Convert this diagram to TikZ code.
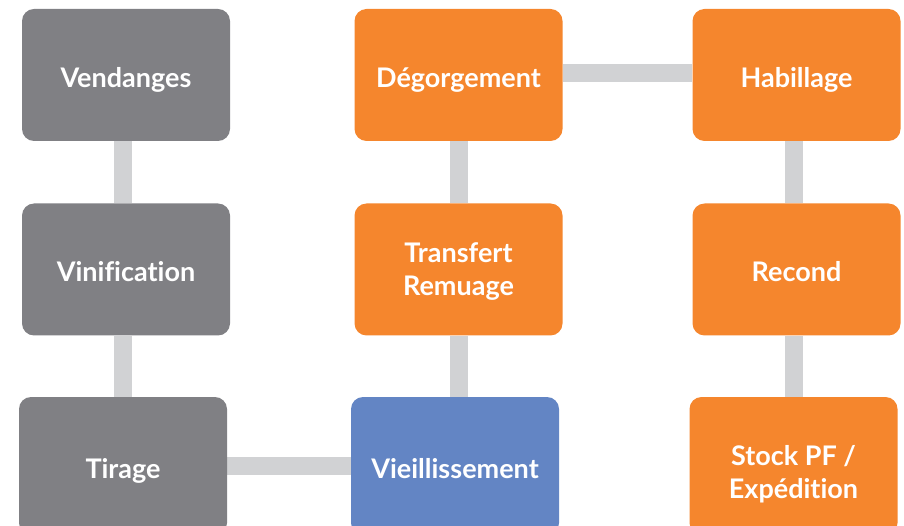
\documentclass[tikz,border=0pt]{standalone}
\usepackage{fontspec}
\setmainfont{Lato}[UprightFont=* Bold, Ligatures=NoCommon]
\usetikzlibrary{backgrounds}
\definecolor{boxgray}{HTML}{808084}
\definecolor{boxorange}{HTML}{F5862D}
\definecolor{boxblue}{HTML}{6385C4}
\definecolor{linkgray}{HTML}{D1D2D4}
\newcommand{\twolines}[3]{\raisebox{#3}[0pt][0pt]{\begin{tabular}{@{}c@{}}#1\\#2\end{tabular}}}
\begin{document}
\begin{tikzpicture}[x=1pt,y=1pt,
  stage/.style={rounded corners=12pt, minimum width=208pt, minimum height=132pt,
    inner sep=0pt, text=white, align=center, font=\fontsize{27}{33}\selectfont},
  oneline/.style={text depth=0pt, text height=25pt},
  tall/.style={minimum height=138pt},
  link/.style={draw=linkgray, line width=18pt}]
\useasboundingbox (0,0) rectangle (904,525);
\node[stage, oneline, fill=boxgray] (ven) at (126,450) {Vendanges};
\node[stage, oneline, fill=boxgray] (vin) at (126,255.5) {Vinification};
\node[stage, oneline, tall, fill=boxgray] (tir) at (123,59) {Tirage};
\node[stage, oneline, fill=boxorange] (deg) at (458.5,450) {Dégorgement};
\node[stage, fill=boxorange] (tra) at (458.5,255.5) {\twolines{Transfert}{Remuage}{-8.75pt}};
\node[stage, oneline, tall, fill=boxblue] (vie) at (455,59) {Vieillissement};
\node[stage, oneline, fill=boxorange] (hab) at (796.5,450) {Habillage};
\node[stage, oneline, fill=boxorange] (rec) at (796.5,255.5) {Recond};
\node[stage, tall, fill=boxorange] (sto) at (793.5,59) {\twolines{Stock PF /}{Expédition}{-15.25pt}};
\begin{scope}[on background layer]
\draw[link] ([xshift=-3pt]ven.south) -- ([xshift=-3pt]vin.north);
\draw[link] ([xshift=-3pt]vin.south) -- (tir.north);
\draw[link] (tir.east) -- (vie.west);
\draw[link] (vie.north -| tra.south) -- (tra.south);
\draw[link] (tra.north) -- (deg.south);
\draw[link] ([yshift=2pt]deg.east) -- ([yshift=2pt]hab.west);
\draw[link] ([xshift=-3pt]hab.south) -- ([xshift=-3pt]rec.north);
\draw[link] ([xshift=-3pt]rec.south) -- (sto.north);
\end{scope}
\end{tikzpicture}
\end{document}
